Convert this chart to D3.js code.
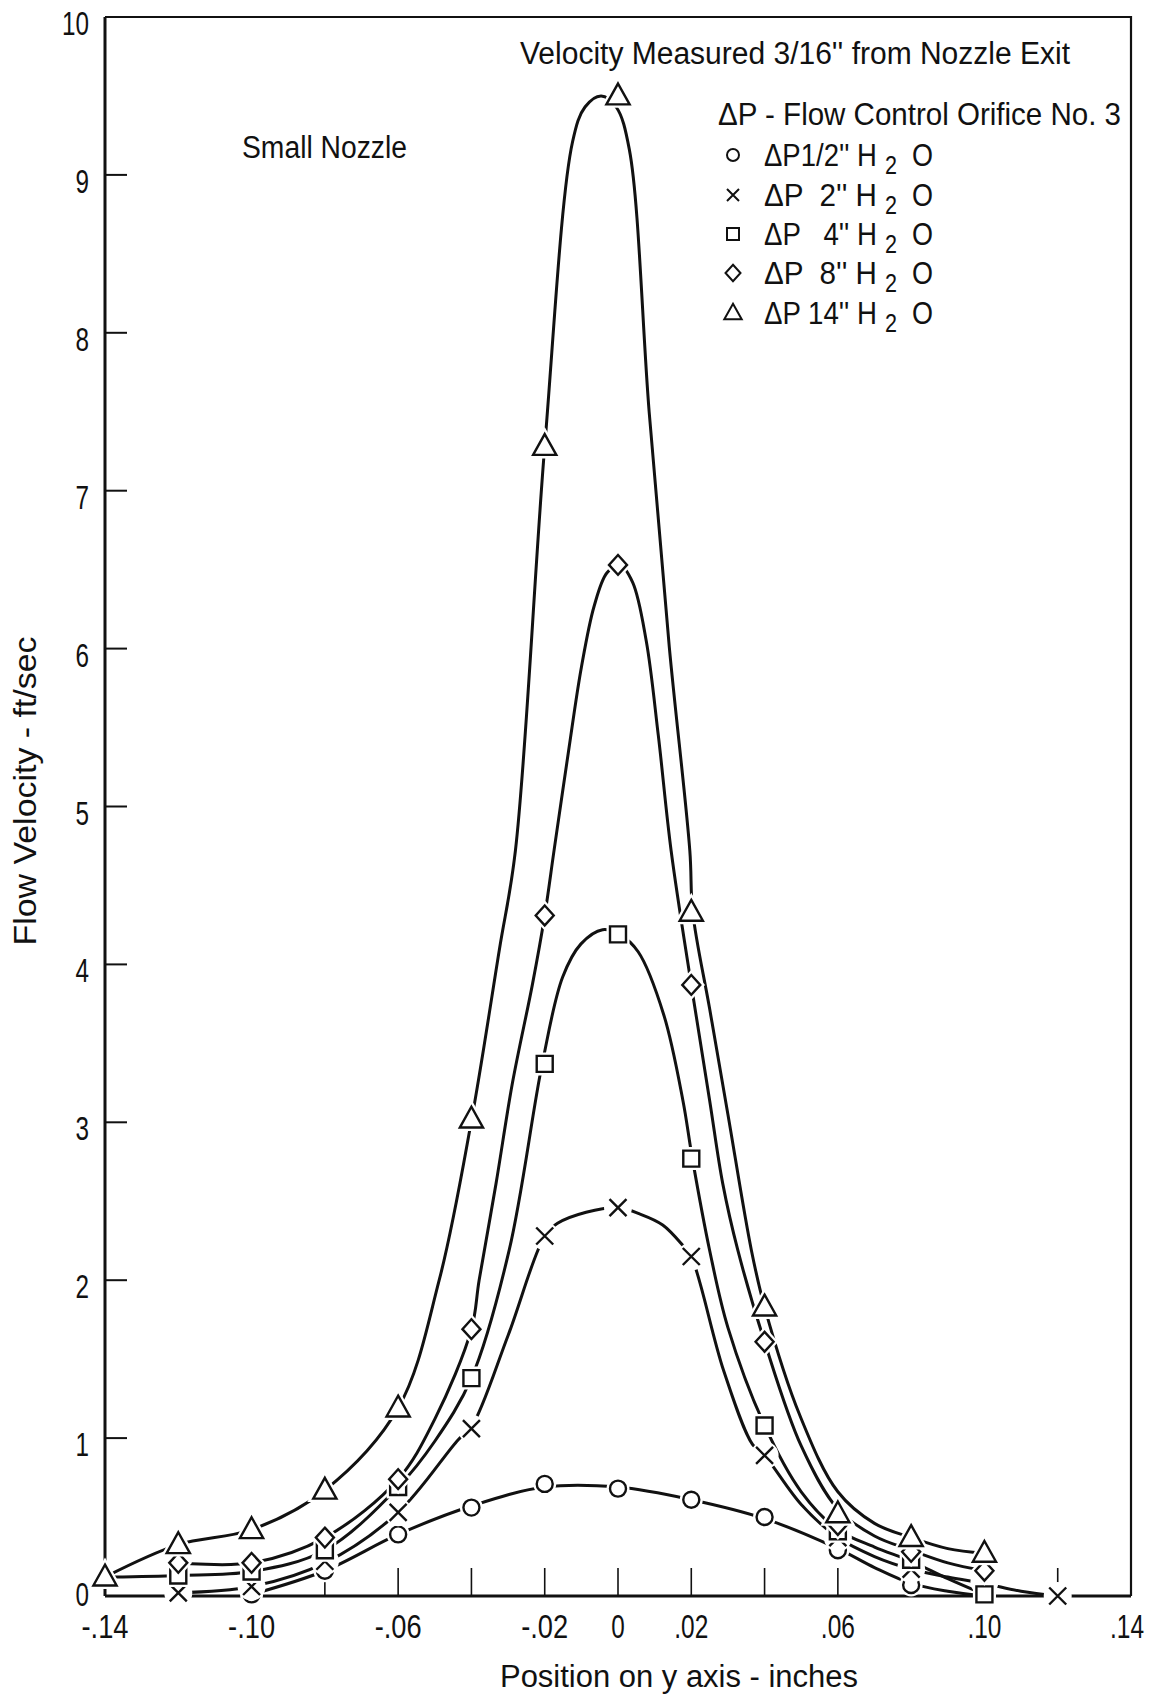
<!DOCTYPE html>
<html>
<head>
<meta charset="utf-8">
<script src="https://cdn.jsdelivr.net/npm/d3@7"></script>
<style>
  body { margin: 0; background: #fff; }
  text { font-family: "Liberation Sans", "DejaVu Sans", sans-serif; fill: #111; white-space: pre; }
</style>
</head>
<body>
<div id="chart"></div>
<script>
// axis ticks and labels
var xTickValues = [-0.12, -0.10, -0.08, -0.06, -0.04, -0.02, 0, 0.02, 0.04, 0.06, 0.08, 0.10, 0.12];
var xLabelValues = [-0.14, -0.10, -0.06, -0.02, 0, 0.02, 0.06, 0.10, 0.14];
var xLabels = ["-.14", "-.10", "-.06", "-.02", "0", ".02", ".06", ".10", ".14"];
var yTickValues = [1, 2, 3, 4, 5, 6, 7, 8, 9];
var yLabels = ["0", "1", "2", "3", "4", "5", "6", "7", "8", "9", "10"];

// measured points (position in, velocity ft/sec)
var pos05 = [-0.10, -0.08, -0.06, -0.04, -0.02, 0, 0.02, 0.04, 0.06, 0.08, 0.10];
var vel05 = [0.01, 0.16, 0.39, 0.56, 0.71, 0.68, 0.61, 0.50, 0.29, 0.07, 0.01];
var pos2 = [-0.12, -0.10, -0.08, -0.06, -0.04, -0.02, 0, 0.02, 0.04, 0.06, 0.08, 0.10, 0.12];
var vel2 = [0.02, 0.06, 0.22, 0.53, 1.06, 2.28, 2.46, 2.15, 0.89, 0.37, 0.17, 0.09, 0.0];
var pos4 = [-0.12, -0.10, -0.08, -0.06, -0.04, -0.02, 0, 0.02, 0.04, 0.06, 0.08, 0.10];
var vel4 = [0.13, 0.155, 0.29, 0.69, 1.38, 3.37, 4.19, 2.77, 1.08, 0.41, 0.23, 0.01];
var pos8 = [-0.12, -0.10, -0.08, -0.06, -0.04, -0.02, 0, 0.02, 0.04, 0.06, 0.08, 0.10];
var vel8 = [0.21, 0.21, 0.37, 0.74, 1.69, 4.31, 6.53, 3.87, 1.61, 0.45, 0.28, 0.16];
var pos14 = [-0.14, -0.12, -0.10, -0.08, -0.06, -0.04, -0.02, 0, 0.02, 0.04, 0.06, 0.08, 0.10];
var vel14 = [0.12, 0.325, 0.42, 0.67, 1.19, 3.02, 7.28, 9.50, 4.33, 1.83, 0.52, 0.37, 0.27];

// faired curves [position, velocity]
var fair05 = [[-0.10,0.01],[-0.08,0.16],[-0.06,0.39],[-0.04,0.57],[-0.02,0.69],[0,0.69],[0.02,0.61],
  [0.04,0.49],[0.06,0.30],[0.07,0.18],[0.08,0.08],[0.09,0.03],[0.10,0.0]];
var fair2 = [[-0.12,0.02],[-0.10,0.06],[-0.08,0.21],[-0.06,0.53],[-0.0436,0.99],[-0.04,1.07],[-0.03,1.65],
  [-0.02,2.28],[-0.0165,2.36],[-0.0087,2.43],[0,2.46],[0.0059,2.42],[0.0122,2.35],[0.0177,2.22],[0.02,2.15],
  [0.0288,1.43],[0.0367,0.96],[0.04,0.89],[0.05,0.58],[0.06,0.37],[0.07,0.25],[0.08,0.17],[0.09,0.12],
  [0.10,0.08],[0.11,0.03],[0.12,0.0]];
var fair4 = [[-0.138,0.12],[-0.12,0.13],[-0.10,0.155],[-0.08,0.29],[-0.06,0.69],[-0.05,0.98],[-0.04,1.38],
  [-0.0297,2.19],[-0.0206,3.38],[-0.0151,3.92],[-0.0101,4.13],[-0.0042,4.22],[0.0004,4.19],[0.0055,4.08],
  [0.0125,3.68],[0.0177,3.14],[0.0203,2.77],[0.025,2.19],[0.03,1.70],[0.04,1.08],[0.05,0.66],[0.06,0.42],
  [0.07,0.31],[0.08,0.22],[0.09,0.11],[0.10,0.01]];
var fair8 = [[-0.12,0.21],[-0.10,0.21],[-0.08,0.37],[-0.06,0.74],[-0.05,1.12],[-0.04,1.69],
  [-0.0379,2.0],[-0.0333,2.61],[-0.0288,3.25],[-0.0233,3.88],[-0.02,4.31],[-0.0174,4.73],[-0.0135,5.35],
  [-0.0100,5.88],[-0.0065,6.27],[-0.0030,6.48],[0.0005,6.53],[0.0040,6.42],[0.0077,6.05],[0.0110,5.45],
  [0.0145,4.72],[0.02,3.87],[0.025,3.14],[0.0286,2.61],[0.0327,2.19],[0.04,1.61],[0.05,0.95],[0.06,0.55],
  [0.07,0.38],[0.08,0.29],[0.09,0.21],[0.10,0.16]];
var fair14 = [[-0.14,0.12],[-0.12,0.325],[-0.10,0.42],[-0.08,0.67],[-0.06,1.19],[-0.0488,2.0],[-0.04,3.01],
  [-0.0324,4.09],[-0.028,4.72],[-0.02,7.28],[-0.0124,9.21],[-0.009,9.43],[-0.0046,9.50],[-0.0005,9.43],
  [0.0031,9.16],[0.0085,7.5],[0.014,6.01],[0.0196,4.72],[0.0204,4.33],[0.025,3.72],[0.03,3.05],[0.0364,2.19],
  [0.04,1.83],[0.0497,1.14],[0.06,0.66],[0.07,0.46],[0.08,0.37],[0.09,0.30],[0.10,0.27]];

var legendPre = ["\u0394P1/2'' H", "\u0394P  2'' H", "\u0394P   4'' H", "\u0394P  8'' H", "\u0394P 14'' H"];
var legendSymbols = ["circle", "cross", "square", "diamond", "triangle"];

var series = [
  { sym: "circle", pos: pos05, vel: vel05, fair: fair05 },
  { sym: "cross", pos: pos2, vel: vel2, fair: fair2 },
  { sym: "square", pos: pos4, vel: vel4, fair: fair4 },
  { sym: "diamond", pos: pos8, vel: vel8, fair: fair8 },
  { sym: "triangle", pos: pos14, vel: vel14, fair: fair14 }
];

var width = 1156, height = 1698;
var x = d3.scaleLinear().domain([-0.14, 0.14]).range([105, 1131]);
var y = d3.scaleLinear().domain([0, 10]).range([1596, 17]);

var svg = d3.select("#chart").append("svg")
  .attr("width", width).attr("height", height);

// narrow lettering: width per character, as measured on the drawing
function labelWidth(s) {
  var w = 0;
  for (var i = 0; i < s.length; i++) {
    var c = s[i];
    w += c === "." ? 7 : c === "-" ? 13 : 13.5;
  }
  return w;
}

// squeeze a text horizontally so it is w px wide, left edge at (tx, ty)
function fitText(sel, tx, ty, w) {
  sel.each(function() {
    var len = this.getComputedTextLength();
    d3.select(this).attr("transform",
      "translate(" + tx + "," + ty + ") scale(" + (w / len) + ",1)");
  });
}

// frame
svg.append("line").attr("x1", x(-0.14)).attr("x2", x(-0.14)).attr("y1", y(0)).attr("y2", y(10))
  .attr("stroke", "#111").attr("stroke-width", 3);
svg.append("line").attr("x1", x(-0.14)).attr("x2", x(0.14)).attr("y1", y(0)).attr("y2", y(0))
  .attr("stroke", "#111").attr("stroke-width", 3.2);
svg.append("path")
  .attr("d", "M" + x(-0.14) + "," + y(10) + "H" + x(0.14) + "V" + y(0))
  .attr("fill", "none").attr("stroke", "#111").attr("stroke-width", 2.2);

// ticks
svg.append("g").selectAll("line").data(yTickValues).enter().append("line")
  .attr("x1", x(-0.14)).attr("x2", x(-0.14) + 22)
  .attr("y1", function(d) { return y(d); }).attr("y2", function(d) { return y(d); })
  .attr("stroke", "#111").attr("stroke-width", 2);
svg.append("g").selectAll("line").data(xTickValues).enter().append("line")
  .attr("x1", function(d) { return x(d); }).attr("x2", function(d) { return x(d); })
  .attr("y1", y(0)).attr("y2", y(0) - 28)
  .attr("stroke", "#111").attr("stroke-width", 1.6);

// tick labels
svg.append("g").selectAll("text").data(yLabels).enter().append("text")
  .attr("x", x(-0.14) - 16)
  .attr("y", function(d, i) { return i === 0 ? y(0) + 10 : y(i) + 18; })
  .attr("text-anchor", "end")
  .attr("font-size", 33)
  .attr("textLength", function(d) { return labelWidth(d); })
  .attr("lengthAdjust", "spacingAndGlyphs")
  .text(function(d) { return d; });
svg.append("g").selectAll("text").data(xLabels).enter().append("text")
  .attr("x", function(d, i) { return x(xLabelValues[i]) - (i === xLabels.length - 1 ? 4 : 0); })
  .attr("y", 1638)
  .attr("text-anchor", "middle")
  .attr("font-size", 33)
  .attr("textLength", function(d) { return labelWidth(d); })
  .attr("lengthAdjust", "spacingAndGlyphs")
  .text(function(d) { return d; });

// curves
var line = d3.line()
  .x(function(d) { return x(d[0]); })
  .y(function(d) { return y(d[1]); })
  .curve(d3.curveCatmullRom.alpha(0.5));

svg.append("g").selectAll("path").data(series).enter().append("path")
  .attr("d", function(s) { return line(s.fair); })
  .attr("fill", "none").attr("stroke", "#111").attr("stroke-width", 3)
  .attr("stroke-linejoin", "round");

// markers
function symbolPath(sym, s) {
  if (sym === "circle") return d3.symbol(d3.symbolCircle, Math.PI * s * s * 0.25)();
  if (sym === "square") return "M" + (-s / 2) + "," + (-s / 2) + "h" + s + "v" + s + "h" + (-s) + "Z";
  if (sym === "diamond") return "M0," + (-s * 0.55) + "L" + (s * 0.5) + ",0L0," + (s * 0.55) + "L" + (-s * 0.5) + ",0Z";
  if (sym === "triangle") return "M0," + (-s * 0.62) + "L" + (s * 0.58) + "," + (s * 0.42) + "L" + (-s * 0.58) + "," + (s * 0.42) + "Z";
  var h = s / 2;
  return "M" + (-h) + "," + (-h) + "L" + h + "," + h + "M" + h + "," + (-h) + "L" + (-h) + "," + h;
}
var markerSize = { circle: 16, cross: 17, square: 16, diamond: 18, triangle: 20 };

series.forEach(function(s) {
  var g = svg.append("g");
  var pts = s.pos.map(function(p, i) { return [p, s.vel[i]]; });
  var m = g.selectAll("g").data(pts).enter().append("g")
    .attr("transform", function(d) { return "translate(" + x(d[0]) + "," + y(d[1]) + ")"; });
  if (s.sym === "cross") {
    m.append("circle").attr("r", 14).attr("fill", "#fff");
  } else {
    m.append("path").attr("d", symbolPath(s.sym, markerSize[s.sym]))
      .attr("fill", "#fff").attr("stroke", "#fff").attr("stroke-width", 7);
  }
  m.append("path").attr("d", symbolPath(s.sym, markerSize[s.sym]))
    .attr("fill", s.sym === "cross" ? "none" : "#fff")
    .attr("stroke", "#111").attr("stroke-width", 2.4);
});

// titles
svg.append("text").attr("x", 520).attr("y", 64).attr("font-size", 31)
  .attr("textLength", 550).attr("lengthAdjust", "spacingAndGlyphs")
  .text("Velocity Measured 3/16'' from Nozzle Exit");
svg.append("text").attr("x", 242).attr("y", 158).attr("font-size", 31)
  .attr("textLength", 165).attr("lengthAdjust", "spacingAndGlyphs")
  .text("Small Nozzle");
svg.append("text").attr("x", 718).attr("y", 125).attr("font-size", 32)
  .attr("textLength", 403).attr("lengthAdjust", "spacingAndGlyphs")
  .text("\u0394P - Flow Control Orifice No. 3");

// legend
var legendY = [155, 195, 234, 273, 313];
var leg = svg.append("g").selectAll("g").data(legendSymbols).enter().append("g")
  .attr("transform", function(d, i) { return "translate(0," + legendY[i] + ")"; });
leg.append("path")
  .attr("transform", "translate(733,0)")
  .attr("d", function(d) { return symbolPath(d, d === "diamond" ? 15 : d === "triangle" ? 15 : 12); })
  .attr("fill", function(d) { return d === "cross" ? "none" : "#fff"; })
  .attr("stroke", "#111").attr("stroke-width", 2);
leg.append("text").attr("font-size", 32)
  .text(function(d, i) { return legendPre[i]; })
  .call(fitText, 764, 11, 113);
leg.append("text").attr("font-size", 26)
  .text("2")
  .call(fitText, 885, 19, 12);
leg.append("text").attr("font-size", 32)
  .text("O")
  .call(fitText, 912, 11, 21);

// axis titles
svg.append("text").attr("transform", "translate(36,791) rotate(-90)")
  .attr("text-anchor", "middle").attr("font-size", 31)
  .attr("textLength", 309).attr("lengthAdjust", "spacingAndGlyphs")
  .text("Flow Velocity - ft/sec");
svg.append("text").attr("x", 500).attr("y", 1687).attr("font-size", 31)
  .attr("textLength", 358).attr("lengthAdjust", "spacingAndGlyphs")
  .text("Position on y axis - inches");
</script>
</body>
</html>
